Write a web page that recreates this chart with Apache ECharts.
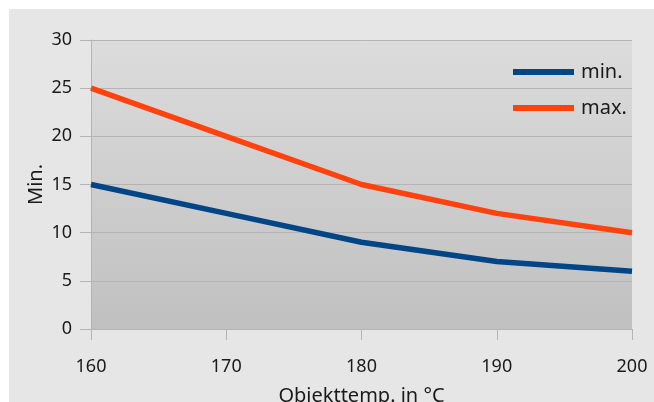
<!DOCTYPE html>
<html><head><meta charset="utf-8">
<script src="https://cdn.jsdelivr.net/npm/echarts@6/dist/echarts.min.js"></script>
<style>
html,body{margin:0;padding:0;background:#fff;}
#wrap{position:relative;width:654px;height:402px;background:#fff;overflow:hidden;}
#chart{position:absolute;left:9px;top:9px;width:645px;height:393px;background:#e6e6e6;}
</style></head><body>
<div id="wrap"><div id="chart"></div></div>
<script>
var categories = ['160', '170', '180', '190', '200'];
var minValues = [15, 12, 9, 7, 6];
var maxValues = [25, 20, 15, 12, 10];
var yTicks = [0, 5, 10, 15, 20, 25, 30];

var chart = echarts.init(document.getElementById('chart'), null, {renderer: 'canvas'});
var font = 'Noto Sans';
var txt = '#1a1a1a';
chart.setOption({
  backgroundColor: '#e6e6e6',
  animation: false,
  textStyle: {fontFamily: font},
  grid: {
    left: 82, right: 22, top: 31, bottom: 73, show: true, borderWidth: 0,
    containLabel: false, outerBoundsMode: 'none',
    backgroundColor: new echarts.graphic.LinearGradient(0, 0, 0, 1, [
      {offset: 0, color: '#dcdcdc'}, {offset: 1, color: '#c0c0c0'}
    ])
  },
  legend: {
    orient: 'vertical', left: 504, top: 53, padding: 0, itemWidth: 61, itemHeight: 6, itemGap: 16,
    icon: 'rect',
    textStyle: {fontFamily: font, fontSize: 20, color: txt, padding: [0,0,0,2]},
    data: ['min.', 'max.']
  },
  xAxis: {
    type: 'category', data: categories, boundaryGap: false,
    name: 'Objekttemp. in °C', nameLocation: 'middle', nameGap: 57, nameMoveOverlap: false,
    nameTextStyle: {fontFamily: font, fontSize: 20, color: txt},
    axisLine: {show: true, lineStyle: {color: '#b4b4b4', width: 1}},
    axisTick: {show: true, length: 11, lineStyle: {color: '#b4b4b4'}},
    axisLabel: {fontFamily: font, fontSize: 18, color: txt, margin: 29},
    splitLine: {show: false}
  },
  yAxis: {
    type: 'value', min: 0, max: 30, interval: 5,
    name: 'Min.', nameLocation: 'middle', nameGap: 45, nameRotate: 90, nameMoveOverlap: false,
    nameTextStyle: {fontFamily: font, fontSize: 20, color: txt},
    axisLine: {show: true, lineStyle: {color: '#b4b4b4', width: 1}},
    axisTick: {show: true, length: 11, lineStyle: {color: '#b4b4b4'}},
    axisLabel: {fontFamily: font, fontSize: 18, color: txt, margin: 19,
      formatter: function(v){ return yTicks.indexOf(v) >= 0 ? String(v) : ''; }},
    splitLine: {show: true, lineStyle: {color: '#b4b4b4', width: 1}}
  },
  series: [
    {name: 'min.', type: 'line', data: minValues, showSymbol: false, symbol: 'none',
     lineStyle: {color: '#004586', width: 5.5}, itemStyle: {color: '#004586'}},
    {name: 'max.', type: 'line', data: maxValues, showSymbol: false, symbol: 'none',
     lineStyle: {color: '#ff420e', width: 5.5}, itemStyle: {color: '#ff420e'}}
  ]
});
</script>
</body></html>
